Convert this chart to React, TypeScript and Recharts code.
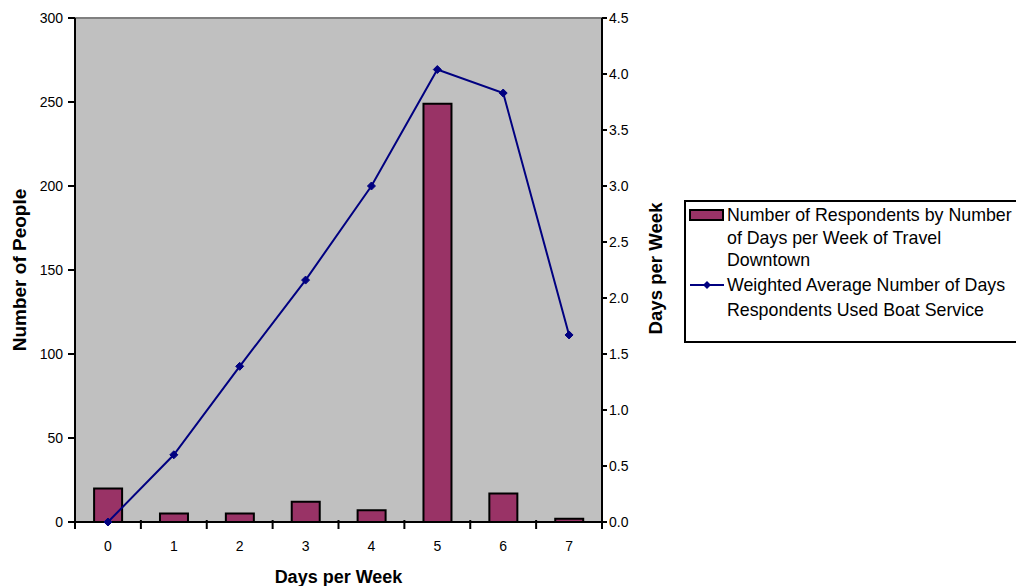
import React from 'react';
import { ComposedChart, Bar, Line, XAxis, YAxis, Legend, CartesianGrid, ReferenceLine } from 'recharts';

const categories = ['0', '1', '2', '3', '4', '5', '6', '7'];
const respondents = [20, 5, 5, 12, 7, 249, 17, 2];
const weightedAvg = [0, 0.6, 1.39, 2.16, 3.0, 4.04, 3.83, 1.67];
const leftTicks = [0, 50, 100, 150, 200, 250, 300];
const rightTicks = [0, 0.5, 1, 1.5, 2, 2.5, 3, 3.5, 4, 4.5];

const barName = 'Number of Respondents by Number of Days per Week of Travel Downtown';
const lineName = 'Weighted Average Number of Days Respondents Used Boat Service';

const data = categories.map((c, i) => ({ day: c, respondents: respondents[i], avg: weightedAvg[i] }));

const FONT = "'Liberation Sans', Arial, Helvetica, sans-serif";
const BAR_COLOR = '#993366';
const LINE_COLOR = '#000080';
const X_TICK_SIZE = 7;
const X_TICK_MARGIN = 12;

const XTick = (props: any) => {
  const { x, y, payload, index, visibleTicksCount } = props;
  const half = payload && payload.offset ? payload.offset : 33;
  const axisY = y - X_TICK_SIZE - X_TICK_MARGIN;
  const last = index === (visibleTicksCount ?? 8) - 1;
  return (
    <g>
      <line x1={x - half} x2={x - half} y1={axisY - 2} y2={axisY + X_TICK_SIZE} stroke="#000" strokeWidth={2} />
      {last && <line x1={x + half} x2={x + half} y1={axisY - 2} y2={axisY + X_TICK_SIZE} stroke="#000" strokeWidth={2} />}
      <text x={x} y={y} dy="0.71em" textAnchor="middle" fontSize={14} fontFamily={FONT} fill="#000">
        {payload.value}
      </text>
    </g>
  );
};

const Diamond = (props: any) => {
  const { cx, cy } = props;
  if (cx == null || cy == null) return null;
  const r = 4;
  return <polygon points={`${cx},${cy - r} ${cx + r},${cy} ${cx},${cy + r} ${cx - r},${cy}`} fill={LINE_COLOR} stroke={LINE_COLOR} />;
};

const renderLegend = () => (
  <div
    style={{
      position: 'relative',
      width: 332,
      height: 143,
      boxSizing: 'border-box',
      borderTop: '2px solid #000',
      borderLeft: '2px solid #000',
      borderBottom: '2px solid #000',
      background: '#fff',
      fontFamily: FONT,
      fontSize: 17.8,
      color: '#000',
    }}
  >
    <svg width={40} height={100} style={{ position: 'absolute', left: 0, top: 0 }}>
      <rect x={4} y={8} width={33} height={10} fill={BAR_COLOR} stroke="#000" strokeWidth={2} />
      <line x1={4} x2={38} y1={83} y2={83} stroke={LINE_COLOR} strokeWidth={2} />
      <polygon points="21,79 25,83 21,87 17,83" fill={LINE_COLOR} />
    </svg>
    <div style={{ position: 'absolute', left: 41, top: 2, lineHeight: '22.5px', whiteSpace: 'nowrap' }}>
      Number of Respondents by Number<br />of Days per Week of Travel<br />Downtown
    </div>
    <div style={{ position: 'absolute', left: 41, top: 71, lineHeight: '24.5px', whiteSpace: 'nowrap' }}>
      Weighted Average Number of Days<br />Respondents Used Boat Service
    </div>
  </div>
);

const leftTitle = () => (
  <text x={19} y={270} transform="rotate(-90, 19, 270)" textAnchor="middle" dominantBaseline="central" fontSize={19} fontWeight="bold" fontFamily={FONT} fill="#000">
    Number of People
  </text>
);

const rightTitle = () => (
  <text x={655} y={268.5} transform="rotate(-90, 655, 268.5)" textAnchor="middle" dominantBaseline="central" fontSize={18.6} fontWeight="bold" fontFamily={FONT} fill="#000">
    Days per Week
  </text>
);

const bottomTitle = () => (
  <text x={338.5} y={577} textAnchor="middle" dominantBaseline="central" fontSize={18} fontWeight="bold" fontFamily={FONT} fill="#000">
    Days per Week
  </text>
);

export default function App() {
  return (
    <div style={{ position: 'absolute', left: 0, top: 0, width: 1016, height: 586, background: '#fff', overflow: 'hidden' }}>
      <ComposedChart
        width={1016}
        height={586}
        data={data}
        margin={{ top: 18, right: 314, bottom: 0, left: 0 }}
        barCategoryGap="29%"
      >
        <CartesianGrid yAxisId="left" fill="#C0C0C0" horizontal={false} vertical={false} stroke="none" />
        <XAxis
          dataKey="day"
          height={64}
          tick={<XTick />}
          tickLine={false}
          tickSize={X_TICK_SIZE}
          tickMargin={X_TICK_MARGIN}
          axisLine={{ stroke: '#000', strokeWidth: 2 }}
          label={bottomTitle}
        />
        <YAxis
          yAxisId="left"
          orientation="left"
          width={75}
          domain={[0, 300]}
          ticks={leftTicks}
          interval={0}
          tickSize={7}
          tickMargin={5}
          tick={{ fill: '#000', fontSize: 14, fontFamily: FONT }}
          tickLine={{ stroke: '#000', strokeWidth: 2 }}
          axisLine={{ stroke: '#000', strokeWidth: 2 }}
          label={leftTitle}
        />
        <YAxis
          yAxisId="right"
          orientation="right"
          width={100}
          domain={[0, 4.5]}
          ticks={rightTicks}
          interval={0}
          tickSize={5}
          tickMargin={2}
          tickFormatter={(v: number) => v.toFixed(1)}
          tick={{ fill: '#000', fontSize: 14, fontFamily: FONT }}
          tickLine={{ stroke: '#000', strokeWidth: 2 }}
          axisLine={{ stroke: '#000', strokeWidth: 2 }}
          label={rightTitle}
        />
        <ReferenceLine yAxisId="left" y={300} stroke="#808080" strokeWidth={2} />
        <Legend
          layout="vertical"
          align="center"
          verticalAlign="middle"
          content={renderLegend}
          wrapperStyle={{ left: 684, top: 200, width: 332, height: 143 }}
        />
        <Bar
          yAxisId="left"
          dataKey="respondents"
          name={barName}
          fill={BAR_COLOR}
          stroke="#000"
          strokeWidth={2}
          isAnimationActive={false}
        />
        <Line
          yAxisId="right"
          dataKey="avg"
          name={lineName}
          stroke={LINE_COLOR}
          strokeWidth={2}
          dot={<Diamond />}
          activeDot={false}
          isAnimationActive={false}
        />
      </ComposedChart>
    </div>
  );
}
